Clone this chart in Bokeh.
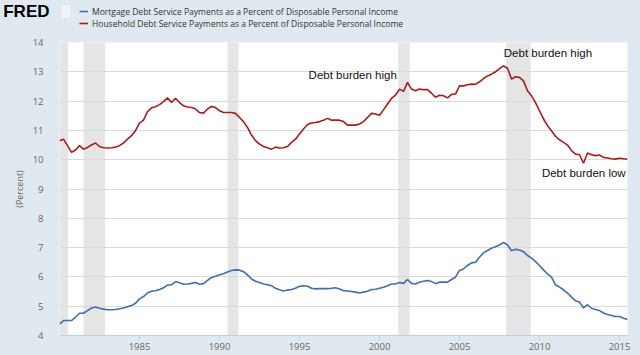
from bokeh.plotting import figure
from bokeh.layouts import column
from bokeh.models import (Range1d, FixedTicker, Legend, LegendItem,
                          BoxAnnotation, ColumnDataSource)
from bokeh.embed import file_html
from bokeh.resources import INLINE
from bokeh.core.properties import value

# ---------------- data (quarterly, 1980Q1 - 2015Q3) ----------------
first_year = 1980
household = [
    10.65, 10.70, 10.48, 10.25,   # 1980
    10.33, 10.48, 10.36, 10.42,   # 1981
    10.50, 10.57, 10.45, 10.41,   # 1982
    10.40, 10.41, 10.43, 10.48,   # 1983
    10.57, 10.70, 10.82, 10.99,   # 1984
    11.25, 11.35, 11.64, 11.77,   # 1985
    11.81, 11.88, 11.98, 12.11,   # 1986
    11.95, 12.10, 11.95, 11.84,   # 1987
    11.80, 11.78, 11.73, 11.61,   # 1988
    11.59, 11.73, 11.82, 11.78,   # 1989
    11.67, 11.61, 11.61, 11.61,   # 1990
    11.58, 11.44, 11.30, 11.10,   # 1991
    10.84, 10.65, 10.53, 10.45,   # 1992
    10.41, 10.36, 10.43, 10.40,   # 1993
    10.41, 10.45, 10.59, 10.70,   # 1994
    10.88, 11.05, 11.20, 11.25,   # 1995
    11.27, 11.30, 11.35, 11.41,   # 1996
    11.35, 11.35, 11.35, 11.30,   # 1997
    11.18, 11.18, 11.18, 11.22,   # 1998
    11.30, 11.44, 11.58, 11.56,   # 1999
    11.52, 11.70, 11.90, 12.09,   # 2000
    12.20, 12.41, 12.33, 12.64,   # 2001
    12.41, 12.35, 12.41, 12.39,   # 2002
    12.39, 12.27, 12.13, 12.20,   # 2003
    12.18, 12.11, 12.23, 12.24,   # 2004
    12.52, 12.52, 12.56, 12.58,   # 2005
    12.57, 12.66, 12.77, 12.86,   # 2006
    12.92, 13.00, 13.11, 13.20,   # 2007
    13.12, 12.75, 12.83, 12.81,   # 2008
    12.69, 12.35, 12.18, 11.95,   # 2009
    11.67, 11.39, 11.16, 10.99,   # 2010
    10.80, 10.68, 10.59, 10.50,   # 2011
    10.31, 10.19, 10.17, 9.88,    # 2012
    10.23, 10.17, 10.14, 10.16,   # 2013
    10.08, 10.06, 10.03, 10.02,   # 2014
    10.05, 10.03, 10.02,          # 2015
]
mortgage = [
    4.39, 4.51, 4.51, 4.51,   # 1980
    4.63, 4.76, 4.76, 4.85,   # 1981
    4.94, 4.97, 4.93, 4.90,   # 1982
    4.88, 4.88, 4.89, 4.91,   # 1983
    4.94, 4.98, 5.02, 5.10,   # 1984
    5.25, 5.33, 5.45, 5.51,   # 1985
    5.53, 5.57, 5.63, 5.72,   # 1986
    5.73, 5.84, 5.80, 5.75,   # 1987
    5.76, 5.78, 5.81, 5.75,   # 1988
    5.77, 5.88, 5.98, 6.02,   # 1989
    6.07, 6.11, 6.17, 6.22,   # 1990
    6.24, 6.23, 6.18, 6.07,   # 1991
    5.93, 5.85, 5.81, 5.76,   # 1992
    5.73, 5.70, 5.61, 5.56,   # 1993
    5.52, 5.55, 5.57, 5.61,   # 1994
    5.68, 5.70, 5.68, 5.61,   # 1995
    5.59, 5.60, 5.60, 5.60,   # 1996
    5.61, 5.63, 5.59, 5.53,   # 1997
    5.52, 5.50, 5.48, 5.45,   # 1998
    5.48, 5.51, 5.57, 5.58,   # 1999
    5.61, 5.65, 5.70, 5.76,   # 2000
    5.76, 5.81, 5.78, 5.91,   # 2001
    5.78, 5.76, 5.82, 5.85,   # 2002
    5.88, 5.84, 5.77, 5.82,   # 2003
    5.82, 5.82, 5.91, 5.99,   # 2004
    6.22, 6.27, 6.39, 6.48,   # 2005
    6.50, 6.67, 6.82, 6.90,   # 2006
    6.98, 7.03, 7.09, 7.18,   # 2007
    7.09, 6.89, 6.94, 6.92,   # 2008
    6.86, 6.73, 6.64, 6.52,   # 2009
    6.39, 6.24, 6.10, 5.99,   # 2010
    5.73, 5.65, 5.56, 5.45,   # 2011
    5.31, 5.19, 5.14, 4.94,   # 2012
    5.05, 4.93, 4.89, 4.85,   # 2013
    4.77, 4.72, 4.68, 4.65,   # 2014
    4.65, 4.59, 4.55,         # 2015
]
dates = [first_year + i / 4 for i in range(len(household))]

recession_start = [1980.0, 1981.5, 1990.5, 2001.17, 2007.92]
recession_end = [1980.54, 1982.85, 1991.19, 2001.88, 2009.45]

x_ticks = [1985, 1990, 1995, 2000, 2005, 2010, 2015]
y_ticks = [4, 5, 6, 7, 8, 9, 10, 11, 12, 13, 14]

annot_text = ["Debt burden high", "Debt burden high", "Debt burden low"]
annot_x = [1995.57, 2007.77, 2010.15]
annot_y = [12.90, 13.63, 9.55]

mortgage_label = "Mortgage Debt Service Payments as a Percent of Disposable Personal Income"
household_label = "Household Debt Service Payments as a Percent of Disposable Personal Income"
logo_text = "FRED"

# ---------------- styles ----------------
BG = "#e1e9f0"
BLUE = "#3f6fae"
RED = "#ab1c1c"
TICK_FONT = "Open Sans"
W = 640
LEFT, RIGHT = 54, 13
HEADER_H = 34
MAIN_H = 355 - HEADER_H

src = ColumnDataSource(dict(date=dates, mortgage=mortgage, household=household))

# ---------------- main chart ----------------
p = figure(width=W, height=MAIN_H, output_backend="svg", toolbar_location=None,
           x_range=Range1d(1980.0, 2015.5), y_range=Range1d(4, 14))
p.min_border_left = LEFT
p.min_border_right = RIGHT
p.min_border_top = 8
p.min_border_bottom = 20
p.background_fill_color = "white"
p.border_fill_color = BG
p.outline_line_color = None

rec_src = ColumnDataSource(dict(left=recession_start, right=recession_end,
                                bottom=[y_ticks[0]] * len(recession_start),
                                top=[y_ticks[-1]] * len(recession_start)))
rq = p.quad(left="left", right="right", bottom="bottom", top="top", source=rec_src,
            fill_color="#e5e5e5", line_color=None)
rq.level = "image"

r_m = p.line("date", "mortgage", source=src, line_color=BLUE, line_width=1.6)
r_h = p.line("date", "household", source=src, line_color=RED, line_width=1.6)

ann_src = ColumnDataSource(dict(x=annot_x, y=annot_y, t=annot_text))
p.text("x", "y", text="t", source=ann_src, text_font=value("Liberation Sans"),
       text_font_size="11.5px", text_color="#111111", text_baseline="middle",
       text_align="left")

p.xgrid.grid_line_color = None
p.ygrid.ticker = FixedTicker(ticks=y_ticks)
p.ygrid.grid_line_color = "#dadada"
p.ygrid.grid_line_width = 1

p.xaxis.ticker = FixedTicker(ticks=x_ticks)
p.xaxis.axis_line_color = "#c0d0e0"
p.xaxis.major_tick_line_color = "#c0d0e0"
p.xaxis.major_tick_out = 5
p.xaxis.major_tick_in = 0
p.xaxis.minor_tick_line_color = None
p.xaxis.major_label_standoff = 2
p.xaxis.major_label_text_font = TICK_FONT
p.xaxis.major_label_text_font_size = "9.5px"
p.xaxis.major_label_text_color = "#666666"

p.yaxis.ticker = FixedTicker(ticks=y_ticks)
p.yaxis.axis_line_color = None
p.yaxis.major_tick_line_color = None
p.yaxis.minor_tick_line_color = None
p.yaxis.major_label_standoff = 10
p.yaxis.major_label_text_font = TICK_FONT
p.yaxis.major_label_text_font_size = "9.5px"
p.yaxis.major_label_text_color = "#666666"
p.yaxis.axis_label = "(Percent)"
p.yaxis.axis_label_text_font = TICK_FONT
p.yaxis.axis_label_text_font_size = "9px"
p.yaxis.axis_label_text_font_style = "normal"
p.yaxis.axis_label_text_color = "#666666"
p.yaxis.axis_label_standoff = 4

# ---------------- header (logo + legend) ----------------
# header coordinates: x in canvas pixels over the frame, y in pixels from the top
h = figure(width=W, height=HEADER_H, output_backend="svg", toolbar_location=None,
           x_range=Range1d(LEFT, W - RIGHT), y_range=Range1d(HEADER_H, 0),
           x_axis_location=None, y_axis_location="left")
h.min_border_left = LEFT
h.min_border_right = RIGHT
h.min_border_top = 0
h.min_border_bottom = 0
h.background_fill_color = BG
h.border_fill_color = BG
h.outline_line_color = None
h.grid.grid_line_color = None

# the logo word is drawn as the single label of the header's left axis
h.yaxis.ticker = FixedTicker(ticks=[11])
h.yaxis.major_label_overrides = {11: logo_text}
h.yaxis.axis_line_color = None
h.yaxis.major_tick_line_color = None
h.yaxis.minor_tick_line_color = None
h.yaxis.major_label_standoff = 4
h.yaxis.major_label_text_font = "Liberation Sans"
h.yaxis.major_label_text_font_style = "bold"
h.yaxis.major_label_text_font_size = "17px"
h.yaxis.major_label_text_color = "#000000"

# legend entries reuse the same series (they fall outside the header's view)
hm = h.line("date", "mortgage", source=src, line_color=BLUE, line_width=1.6)
hh = h.line("date", "household", source=src, line_color=RED, line_width=1.6)

legend = Legend(items=[LegendItem(label=mortgage_label, renderers=[hm]),
                       LegendItem(label=household_label, renderers=[hh])],
                location=(20, HEADER_H - 5 - 24), orientation="vertical",
                padding=0, margin=0, spacing=0, label_height=12, glyph_height=12,
                glyph_width=9, label_standoff=4, border_line_color=None,
                background_fill_alpha=0, label_text_font=TICK_FONT,
                label_text_font_size="8.5px", label_text_color="#333333")
h.add_layout(legend)

# small chart icon next to the logo
h.add_layout(BoxAnnotation(left=LEFT + 1, right=LEFT + 12, top=4, bottom=18,
                           fill_color="#f1f4f7", fill_alpha=1.0,
                           line_color="#c4ced8", line_width=1))

layout = column(h, p, spacing=0, styles={"background-color": BG})
open("out.html", "w").write(file_html(layout, INLINE))
